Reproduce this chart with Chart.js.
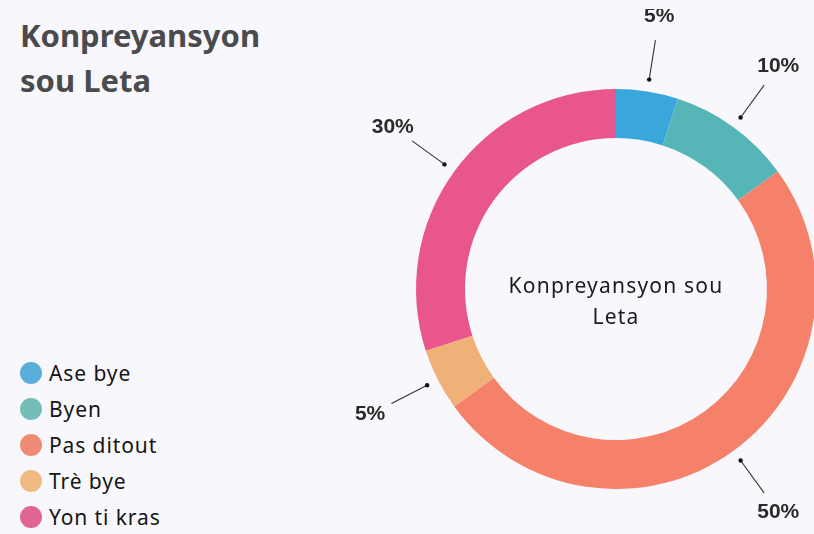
<!DOCTYPE html>
<html>
<head>
<meta charset="utf-8">
<script src="https://cdn.jsdelivr.net/npm/chart.js@4.4.0/dist/chart.umd.min.js"></script>
<style>
  html, body { margin: 0; padding: 0; }
  body { width: 814px; height: 534px; background: #f8f8fc; overflow: hidden; position: relative; font-family: "Noto Sans", sans-serif; }
  h1 { position: absolute; left: 20px; top: 13px; margin: 0; font-size: 31px; line-height: 45px; font-weight: 700; color: #4b4b4d; }
  #legend { position: absolute; left: 20px; top: 355px; margin: 0; padding: 0; list-style: none; }
  #legend li { height: 36px; display: flex; align-items: center; font-size: 21px; color: #151515; letter-spacing: 0.9px; }
  #legend span { width: 22px; height: 22px; border-radius: 50%; margin-right: 7px; display: inline-block; }
  #wrap { position: absolute; left: 336px; top: 9px; width: 560px; height: 560px; }
</style>
</head>
<body>
<h1>Konpreyansyon<br>sou Leta</h1>
<ul id="legend"></ul>
<div id="wrap"><canvas id="chart"></canvas></div>
<script>
// done yo
const categories = ['Ase bye', 'Byen', 'Pas ditout', 'Trè bye', 'Yon ti kras'];
const values = [5, 10, 50, 5, 30];
const sliceColors = ['#3aa7dc', '#56b5b6', '#f5816b', '#f0b178', '#e9568d'];
const legendColors = ['#5badda', '#75bdb9', '#ef8b74', '#f0bb82', '#e06592'];
const centerLines = ['Konpreyansyon sou', 'Leta'];

// lejann an
document.getElementById('legend').innerHTML = categories.map((c, i) =>
    `<li><span style="background:${legendColors[i]}"></span>${c}</li>`
).join('');

const outsideLabels = {
    id: 'outsideLabels',
    afterDatasetsDraw(chart) {
        const ctx = chart.ctx;
        const arcs = chart.getDatasetMeta(0).data;
        ctx.save();
        arcs.forEach((arc, i) => {
            const p = arc.getProps(['x', 'y', 'startAngle', 'endAngle', 'outerRadius'], true);
            const mid = (p.startAngle + p.endAngle) / 2;
            const cos = Math.cos(mid), sin = Math.sin(mid);
            const r1 = p.outerRadius + 12, r2 = p.outerRadius + 52, r3 = p.outerRadius + 76;
            ctx.strokeStyle = '#333';
            ctx.lineWidth = 1.1;
            ctx.beginPath();
            ctx.moveTo(p.x + cos * r1, p.y + sin * r1);
            ctx.lineTo(p.x + cos * r2, p.y + sin * r2);
            ctx.stroke();
            ctx.fillStyle = '#111';
            ctx.beginPath();
            ctx.arc(p.x + cos * r1, p.y + sin * r1, 2.2, 0, Math.PI * 2);
            ctx.fill();
            ctx.font = 'bold 21px "Liberation Sans", Arial, sans-serif';
            ctx.textAlign = 'center';
            ctx.textBaseline = 'middle';
            ctx.fillStyle = '#2a2a2a';
            ctx.fillText(values[i] + '%', p.x + cos * r3, p.y + sin * r3);
        });
        // tèks nan mitan
        const c = arcs[0];
        ctx.font = '21px "Noto Sans", sans-serif';
        ctx.letterSpacing = '1.2px';
        ctx.fillStyle = '#1a1a1a';
        ctx.fillText(centerLines[0], c.x, c.y - 2);
        ctx.fillText(centerLines[1], c.x, c.y + 29);
        ctx.restore();
    }
};

new Chart(document.getElementById('chart').getContext('2d'), {
    type: 'doughnut',
    data: {
        labels: categories,
        datasets: [{
            data: values,
            backgroundColor: sliceColors,
            borderWidth: 0
        }]
    },
    options: {
        responsive: true,
        maintainAspectRatio: false,
        animation: false,
        cutout: '75.5%',
        layout: { padding: 80 },
        plugins: {
            legend: { display: false },
            tooltip: { enabled: false }
        }
    },
    plugins: [outsideLabels]
});
</script>
</body>
</html>
